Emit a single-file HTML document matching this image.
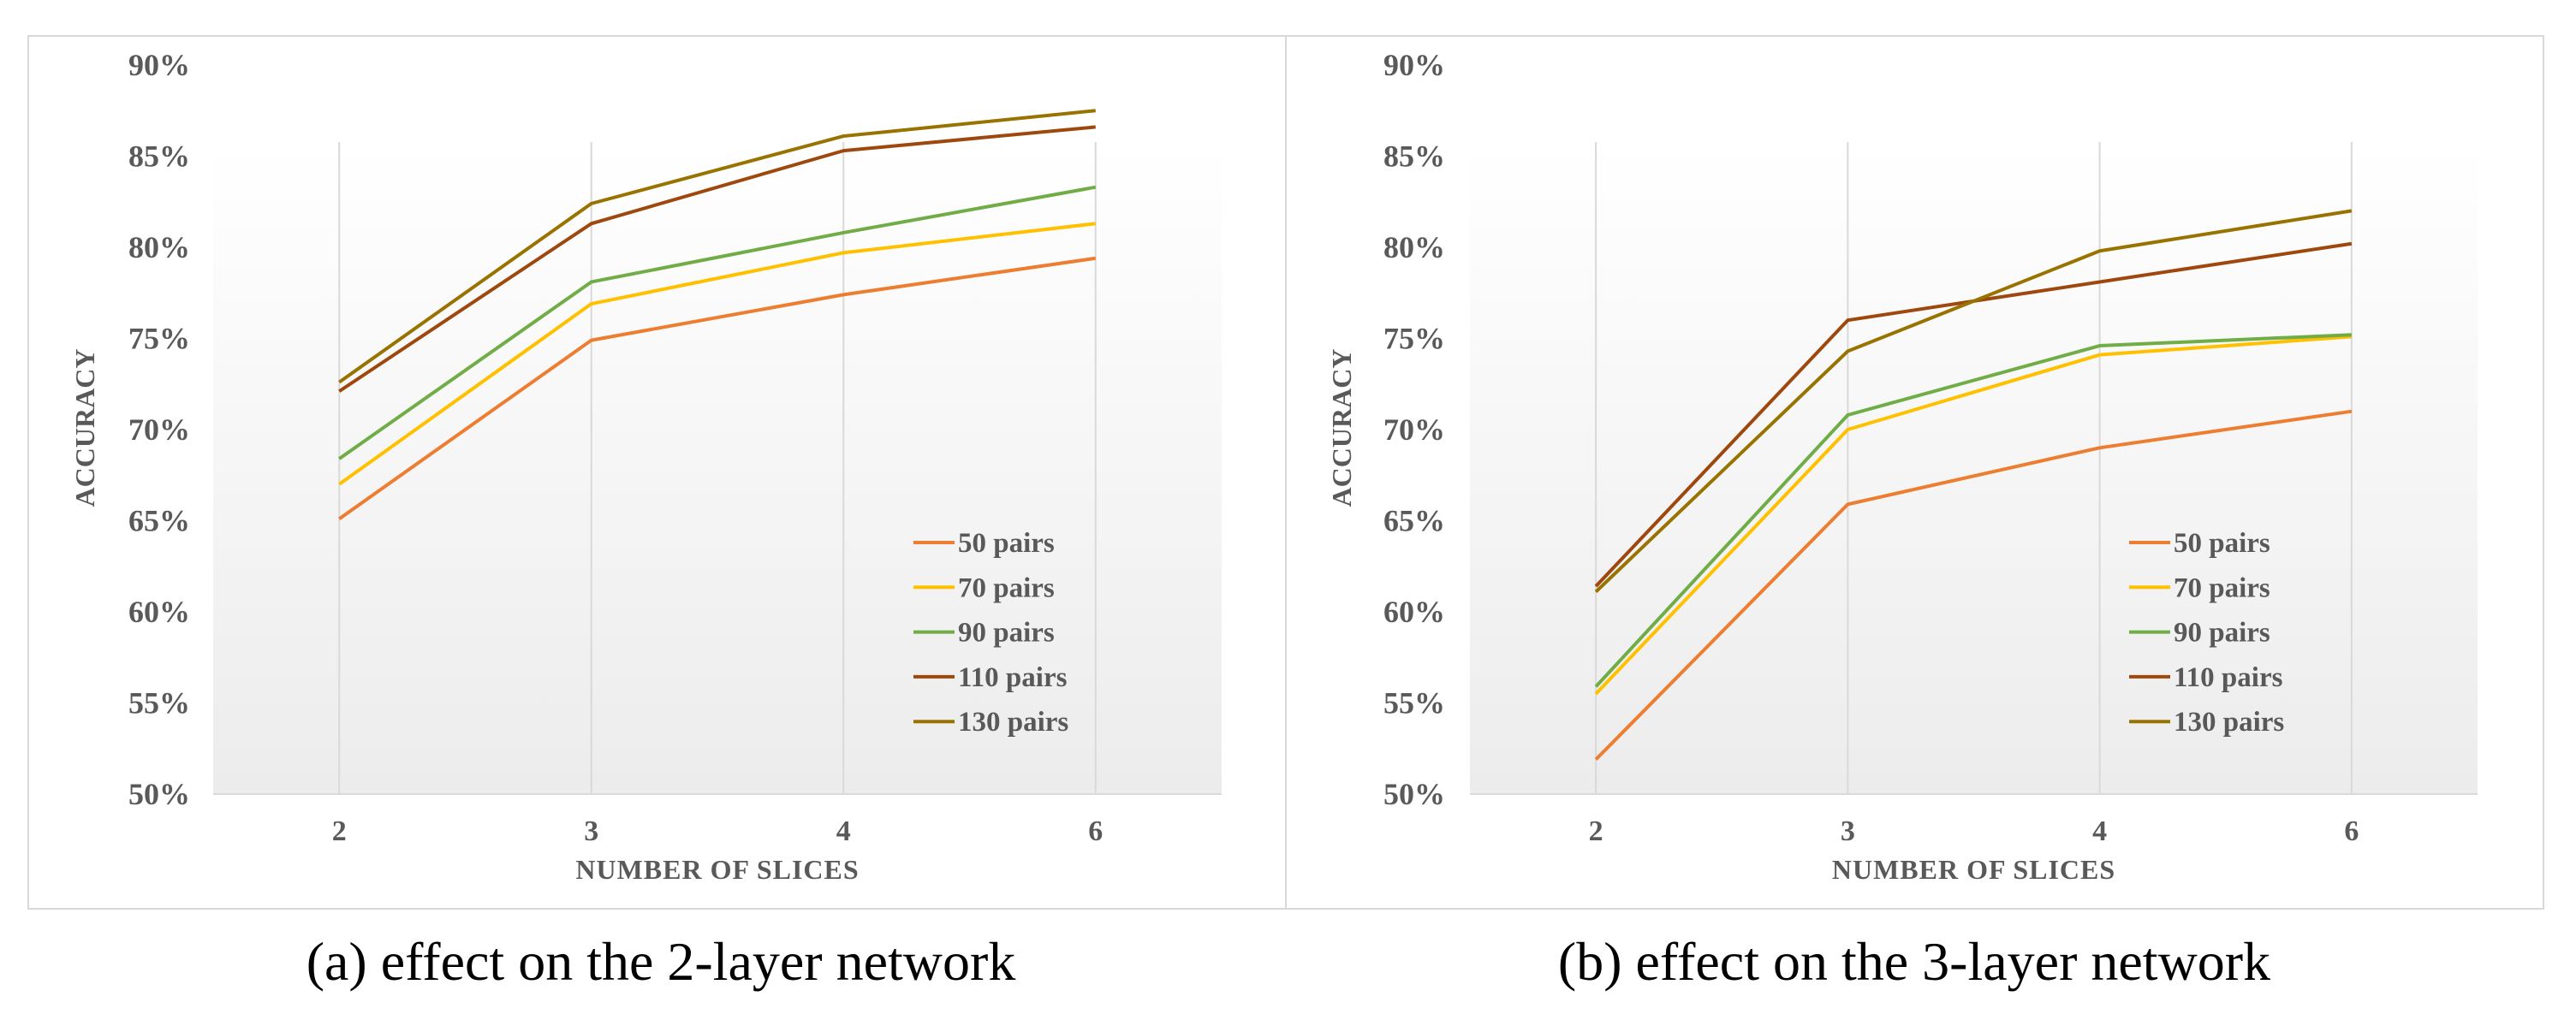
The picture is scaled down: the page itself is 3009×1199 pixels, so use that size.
<!DOCTYPE html>
<html><head><meta charset="utf-8"><style>
html,body{margin:0;padding:0;background:#fff}
svg{display:block}
text{font-family:"Liberation Serif",serif}
</style></head><body>
<svg id="fig" width="3009" height="1199" viewBox="0 0 3009 1199" xmlns="http://www.w3.org/2000/svg">
<defs>
<linearGradient id="bg" x1="0" y1="0" x2="0" y2="1">
<stop offset="0" stop-color="#ffffff"/><stop offset="1" stop-color="#ececec"/>
</linearGradient>
</defs>
<rect x="33" y="42" width="1469" height="1020" fill="#fff" stroke="#d9d9d9" stroke-width="2"/>
<rect x="1502" y="42" width="1469" height="1020" fill="#fff" stroke="#d9d9d9" stroke-width="2"/>
<text x="772" y="1145" font-size="64" text-anchor="middle" fill="#000">(a) effect on the 2-layer network</text>
<text x="2236" y="1145" font-size="64" text-anchor="middle" fill="#000">(b) effect on the 3-layer network</text>
</svg>
<script>
const categories = ["2","3","4","6"];
const yTicks = [50,55,60,65,70,75,80,85,90];
const seriesNames = ["50 pairs","70 pairs","90 pairs","110 pairs","130 pairs"];
const seriesColors = ["#ed7d31","#ffc000","#70ad47","#9e480e","#997300"];
const leftS50 = [65.1,74.9,77.4,79.4];
const leftS70 = [67.0,76.9,79.7,81.3];
const leftS90 = [68.4,78.1,80.8,83.3];
const leftS110 = [72.1,81.3,85.3,86.6];
const leftS130 = [72.6,82.4,86.1,87.5];
const rightS50 = [51.9,65.9,69.0,71.0];
const rightS70 = [55.5,70.0,74.1,75.1];
const rightS90 = [55.9,70.8,74.6,75.2];
const rightS110 = [61.4,76.0,78.1,80.2];
const rightS130 = [61.1,74.3,79.8,82.0];

const NS="http://www.w3.org/2000/svg";
const svg=document.getElementById('fig');
function mk(tag,attrs,parent){const e=document.createElementNS(NS,tag);for(const k in attrs)e.setAttribute(k,attrs[k]);(parent||svg).appendChild(e);return e;}

function drawChart(prefix, px0, px1, tickRight, yTitleX, legendX, series){
  const top=76, bottom=928, ymin=50, ymax=90;
  const y=v=>bottom-(v-ymin)/(ymax-ymin)*(bottom-top);
  const step=(px1-px0)/categories.length;
  const x=i=>px0+step*(i+0.5);
  const g=mk('g',{});
  
  
  const bg=mk('rect',{x:px0,y:168,width:px1-px0,height:bottom-168,fill:'url(#bg)'},g);
  
  
  categories.forEach((c,i)=>{
    const gl=mk('line',{x1:x(i),x2:x(i),y1:y(ymax)+90,y2:bottom,stroke:'#d9d9d9','stroke-width':2},g);
    
    
    const t=mk('text',{x:x(i),y:982,'font-size':34,'font-weight':'bold',fill:'#595959','text-anchor':'middle'},g);
    t.textContent=c;
    
    
  });
  const ax=mk('line',{x1:px0,x2:px1,y1:bottom,y2:bottom,stroke:'#d9d9d9','stroke-width':2},g);
  
  
  yTicks.forEach(v=>{
    const t=mk('text',{x:tickRight,y:y(v)+12,'font-size':36,'font-weight':'bold',fill:'#595959','text-anchor':'end'},g);
    t.textContent=v+'%';
    
    
  });
  const xt=mk('text',{x:(px0+px1)/2,y:1027,'font-size':32,'font-weight':'bold',fill:'#595959','text-anchor':'middle','letter-spacing':'1'},g);
  xt.textContent='NUMBER OF SLICES';
  
  
  const yt=mk('text',{x:0,y:0,'font-size':32,'font-weight':'bold',fill:'#595959','text-anchor':'middle',transform:`translate(${yTitleX},500) rotate(-90)`},g);
  yt.textContent='ACCURACY';
  
  
  series.forEach((vals,si)=>{
    const pts=vals.map((v,i)=>x(i)+','+y(v)).join(' ');
    const pl=mk('polyline',{points:pts,fill:'none',stroke:seriesColors[si],'stroke-width':4,'stroke-linejoin':'round'},g);
    
    
    const ly=634+si*52.3;
    const ll=mk('line',{x1:legendX,x2:legendX+48,y1:ly,y2:ly,stroke:seriesColors[si],'stroke-width':4},g);
    
    
    const lt=mk('text',{x:legendX+52,y:ly+11,'font-size':33,'font-weight':'bold',fill:'#595959'},g);
    lt.textContent=seriesNames[si];
    
    
  });
}
drawChart('left',249,1427,222,110,1067,[leftS50,leftS70,leftS90,leftS110,leftS130]);
drawChart('right',1717,2894,1688,1578,2487,[rightS50,rightS70,rightS90,rightS110,rightS130]);
</script>
</body></html>
